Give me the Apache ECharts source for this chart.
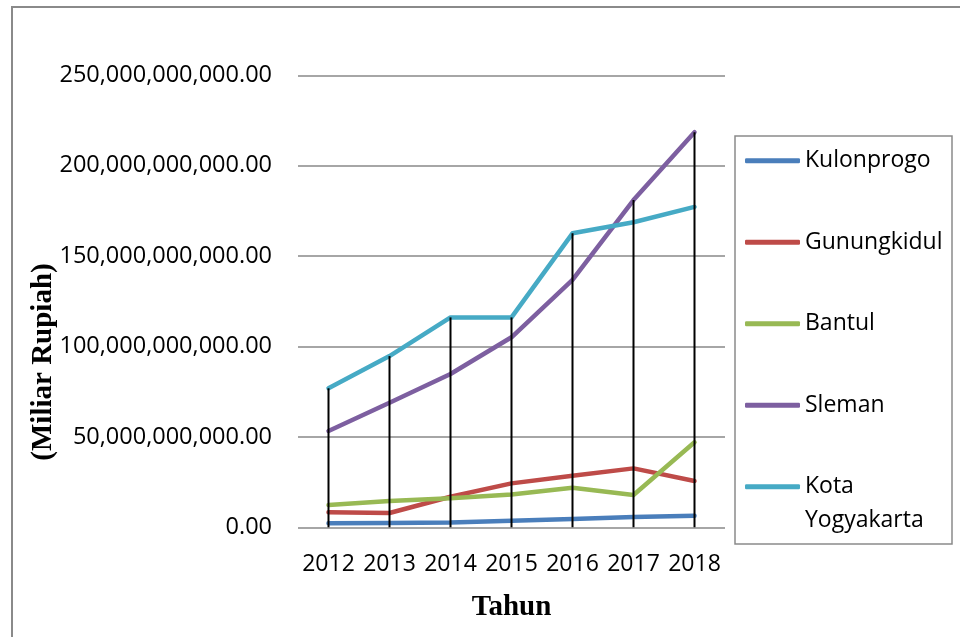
<!DOCTYPE html>
<html>
<head>
<meta charset="utf-8">
<script src="https://cdn.jsdelivr.net/npm/echarts@6/dist/echarts.min.js"></script>
<style>
html,body{margin:0;padding:0;background:#fff;}
#chart{width:960px;height:637px;}
</style>
</head>
<body>
<div id="chart"></div>
<script>
const years = ['2012','2013','2014','2015','2016','2017','2018'];
const seriesNames = ['Kulonprogo','Gunungkidul','Bantul','Sleman','Kota Yogyakarta'];
const kulonprogo = [2200000000, 2400000000, 2600000000, 3600000000, 4600000000, 5700000000, 6400000000];
const gunungkidul = [8300000000, 7900000000, 16900000000, 24300000000, 28500000000, 32600000000, 25600000000];
const bantul = [12300000000, 14500000000, 16000000000, 18200000000, 21900000000, 17900000000, 47000000000];
const sleman = [53300000000, 68900000000, 84800000000, 105100000000, 136800000000, 181000000000, 218500000000];
const kotaYogyakarta = [76900000000, 94700000000, 116100000000, 116100000000, 162600000000, 168700000000, 177200000000];
const yTicks = [0, 50000000000, 100000000000, 150000000000, 200000000000, 250000000000];
const colors = ['#4a7ebb','#be4b48','#98b954','#7d5fa0','#46aac5'];

const allValues = [kulonprogo, gunungkidul, bantul, sleman, kotaYogyakarta];
const dropValues = years.map((_, i) => Math.max.apply(null, allValues.map(a => a[i])));

const chart = echarts.init(document.getElementById('chart'), null, {renderer: 'canvas'});

const lineSeries = seriesNames.map((name, i) => ({
  name: name,
  type: 'line',
  data: allValues[i],
  symbol: 'none',
  z: 2,
  lineStyle: {width: 4.5, color: colors[i], cap: 'round', join: 'round'},
  itemStyle: {color: colors[i]}
}));

const legendText = {fontFamily: 'Open Sans', fontSize: 23, color: '#000', lineHeight: 34};
const legendCommon = {
  orient: 'vertical',
  left: 745,
  padding: 0,
  itemWidth: 55,
  itemHeight: 5,
  itemGap: 47.5,
  icon: 'roundRect',
  textStyle: legendText
};

const option = {
  animation: false,
  backgroundColor: '#fff',
  grid: {left: 298, top: 75.3, width: 427, height: 452, containLabel: false},
  xAxis: {
    type: 'category',
    data: years,
    boundaryGap: true,
    axisLine: {show: false},
    axisTick: {show: false},
    axisLabel: {fontFamily: 'Open Sans', fontSize: 23, color: '#000', margin: 26, interval: 0},
    name: 'Tahun',
    nameLocation: 'middle',
    nameGap: 66,
    nameTextStyle: {fontFamily: 'Liberation Serif', fontWeight: 'bold', fontSize: 29, color: '#000'}
  },
  yAxis: {
    type: 'value',
    min: yTicks[0],
    max: yTicks[yTicks.length - 1],
    interval: yTicks[1] - yTicks[0],
    axisLine: {show: false},
    axisTick: {show: false},
    splitLine: {lineStyle: {color: '#898989', width: 1.6}},
    axisLabel: {
      fontFamily: 'Open Sans', fontSize: 23.5, color: '#000', margin: 26,
      formatter: v => v.toLocaleString('en-US', {minimumFractionDigits: 2, maximumFractionDigits: 2})
    }
  },
  legend: [
    Object.assign({}, legendCommon, {
      top: 143.7,
      data: seriesNames.slice(0, 4)
    }),
    Object.assign({}, legendCommon, {
      top: 435.7,
      formatter: name => '\n' + name.replace(' ', '\n'),
      data: seriesNames.slice(4)
    })
  ],
  graphic: [
    {type: 'rect', shape: {x: 12, y: 7, width: 960, height: 640}, style: {fill: 'none', stroke: '#8a8a8a', lineWidth: 2}, z: -1},
    {type: 'rect', shape: {x: 735, y: 136, width: 217, height: 408}, style: {fill: 'none', stroke: '#8a8a8a', lineWidth: 1.5}},
    {type: 'text', x: 44, y: 362, rotation: Math.PI / 2,
     style: {text: '(Miliar Rupiah)', fontFamily: 'Liberation Serif', fontWeight: 'bold', fontSize: 29, fill: '#000', align: 'center', verticalAlign: 'middle'}}
  ],
  series: lineSeries.concat([{
    name: 'drop',
    type: 'bar',
    data: dropValues,
    barWidth: 2,
    z: 3,
    itemStyle: {color: '#000'},
    silent: true
  }])
};
chart.setOption(option);
</script>
</body>
</html>
